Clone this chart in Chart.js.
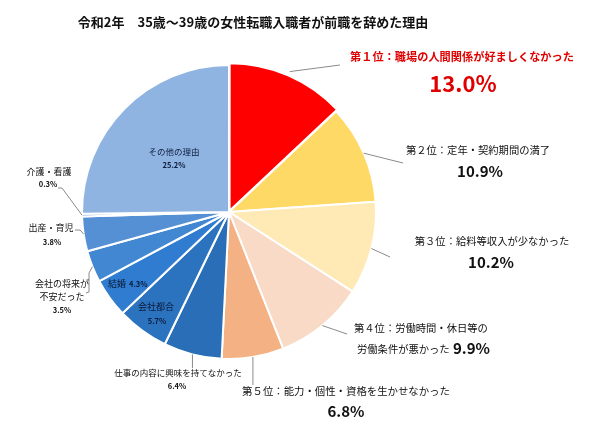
<!DOCTYPE html>
<html><head><meta charset="utf-8">
<script src="https://cdn.jsdelivr.net/npm/chart.js@4/dist/chart.umd.min.js"></script>
<style>html,body{margin:0;padding:0;background:#fff}#wrap{width:600px;height:443px;position:relative}</style>
</head><body><div id="wrap"><canvas id="c" width="600" height="443"></canvas></div>
<script>
const title = '令和2年　35歳～39歳の女性転職入職者が前職を辞めた理由';
const categories = ['職場の人間関係が好ましくなかった','定年・契約期間の満了','給料等収入が少なかった','労働時間・休日等の労働条件が悪かった','能力・個性・資格を生かせなかった','仕事の内容に興味を持てなかった','会社都合','結婚','会社の将来が不安だった','出産・育児','介護・看護','その他の理由'];
const values = [13.0,10.9,10.2,9.9,6.8,6.4,5.7,4.3,3.5,3.8,0.3,25.2];
const colors = ['#FF0000','#FFD966','#FFE9B5','#F9DAC6','#F4B183','#2A6EB8','#2C73BF','#2F7CD0','#4287D2','#5590D4','#6E9FD9','#8FB4E2'];
const offsets = [6,0,0,0,0,0,0,0,0,0,0,0];

const F = '"Noto Sans CJK JP","Noto Sans",sans-serif';
const pct = v => v.toFixed(1) + '%';
const big = (i) => pct(values[i]);
// label layout: text lines [text, x, y, size, weight, color, align]
const layout = [
  {i:0, lines:[['第１位：'+categories[0],462,57,11.2,'bold','#E00000','center'],[big(0),463,84,22,'bold','#E00000','center']], lead:[[340,65]]},
  {i:1, lines:[['第２位：'+categories[1],478,150,10.3,'normal','#111','center'],[big(1),480,171,15,'bold','#111','center']], lead:[[403,163]]},
  {i:2, lines:[['第３位：'+categories[2],492,241,10.3,'normal','#111','center'],[big(2),491,262,15,'bold','#111','center']], lead:[[390,257]]},
  {i:3, lines:[['第４位：労働時間・休日等の',354,328,10.3,'normal','#111','left'],['労働条件が悪かった',357,349,10.3,'normal','#111','left'],[big(3),453,348,15,'bold','#111','left']], lead:[[347,334]]},
  {i:4, lines:[['第５位：'+categories[4],346,391,10.4,'normal','#111','center'],[big(4),346,411,15,'bold','#111','center']], lead:[['v',385]]},
  {i:5, lines:[[categories[5],178,373,8.5,'normal','#111','center'],[pct(values[5]),177,386,7.5,'bold','#111','center']], lead:[['v',368]]},
  {i:6, lines:[[categories[6],156,307,9,'normal','#0b1a3a','center'],[pct(values[6]),157,321,7.5,'bold','#0b1a3a','center']]},
  {i:7, lines:[[categories[7],108,284,9,'normal','#0b1a3a','left'],[pct(values[7]),129,284,7.5,'bold','#0b1a3a','left']]},
  {i:8, lines:[['会社の将来が',62,284,9,'normal','#111','center'],['不安だった',62,297,9,'normal','#111','center'],[pct(values[8]),62,310,7.5,'bold','#111','center']], lead:[[89,273],[89,292],[86,293]]},
  {i:9, lines:[[categories[9],51,228,9,'normal','#111','center'],[pct(values[9]),52,242,7.5,'bold','#111','center']], lead:[[80,230],[75,230]]},
  {i:10, lines:[[categories[10],49,172,9,'normal','#111','center'],[pct(values[10]),48,184,7.5,'bold','#111','center']], lead:[[62,188],[58,188]]},
  {i:11, lines:[[categories[11],174,152,8.5,'normal','#0b1a3a','center'],[pct(values[11]),174,165,7.5,'bold','#0b1a3a','center']]}
];

const labelPlugin = {
  id:'labels',
  afterDraw(chart){
    const ctx = chart.ctx;
    const meta = chart.getDatasetMeta(0);
    ctx.save();
    ctx.fillStyle = '#111';
    ctx.font = 'bold 13px ' + F;
    ctx.textAlign = 'center'; ctx.textBaseline = 'middle';
    ctx.fillText(title, 253, 22);
    layout.forEach(L => {
      const arc = meta.data[L.i];
      if (L.lead) {
        const mid = (arc.startAngle + arc.endAngle)/2;
        const r = arc.outerRadius + (offsets[L.i]||0);
        const sx = arc.x + Math.cos(mid)*r, sy = arc.y + Math.sin(mid)*r;
        ctx.strokeStyle = '#8a8a8a'; ctx.lineWidth = 1;
        ctx.beginPath(); ctx.moveTo(sx, sy);
        L.lead.forEach(p => { if (p[0]==='v') ctx.lineTo(sx, p[1]); else ctx.lineTo(p[0], p[1]); });
        ctx.stroke();
      }
      L.lines.forEach(t => {
        ctx.font = t[4] + ' ' + t[3] + 'px ' + F;
        ctx.fillStyle = t[5]; ctx.textAlign = t[6]; ctx.textBaseline = 'middle';
        ctx.fillText(t[0], t[1], t[2]);
      });
    });
    ctx.restore();
  }
};

new Chart(document.getElementById('c'), {
  type:'pie',
  data:{labels:categories, datasets:[{data:values, backgroundColor:colors, borderColor:'#ffffff', borderWidth:2, offset:offsets}]},
  options:{
    responsive:false, animation:false,
    layout:{padding:{left:0,right:142,top:0,bottom:19}},
    radius:147,
    plugins:{legend:{display:false}, tooltip:{enabled:false}, title:{display:false}}
  },
  plugins:[labelPlugin]
});
</script></body></html>
